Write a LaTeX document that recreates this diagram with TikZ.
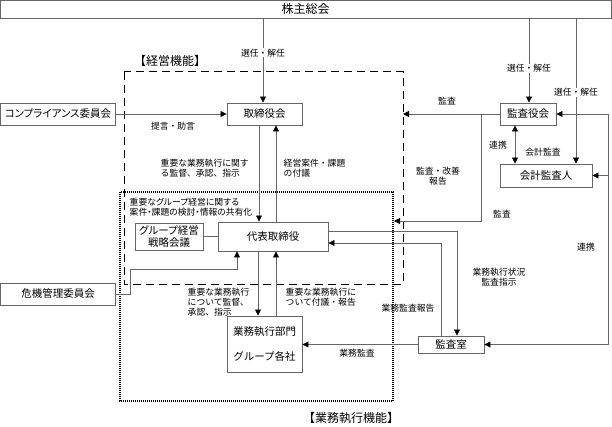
\documentclass[tikz,border=0pt]{standalone}
\usepackage{fontspec}
\setmainfont{Noto Sans CJK JP}
\newfontfamily\pfont{Noto Sans CJK JP}[RawFeature=+palt]
\usetikzlibrary{arrows.meta,calc}
\begin{document}
\begin{tikzpicture}[x=1pt,y=-1pt,
  box/.style={draw=black!60, line width=0.9pt, fill=white, inner sep=0pt, font=\fontsize{10.5}{12}\selectfont, align=center},
  lbl/.style={inner sep=0.5pt, font=\fontsize{8.8}{10.2}\selectfont, align=left},
  clbl/.style={inner sep=0.5pt, font=\fontsize{8.8}{10.2}\selectfont, align=center},
  title/.style={inner sep=0pt, font=\fontsize{12}{14}\selectfont},
  conn/.style={draw=black!60, line width=0.8pt},
  tip/.tip={Triangle[length=6pt,width=6pt,color=black]},
  arr/.style={conn, -tip},
  darr/.style={conn, tip-tip},
  dashframe/.style={draw=black, line width=1pt, dash pattern=on 8pt off 5pt},
  dotframe/.style={draw=black, line width=1.1pt, dash pattern=on 1pt off 1pt}
]
\useasboundingbox (0,0) rectangle (612,427);

% frames
\draw[dashframe] (124,72) rectangle (403,284);
\draw[dotframe] (120,192) rectangle (393,401);
\node[title] (tk) at (170,61) {【経営機能】};
\node[title] (tg) at (351,418) {【業務執行機能】};

% boxes
\node[box, minimum width=611, minimum height=18, font=\fontsize{12}{14}\selectfont] (sh) at (305.5,9) {株主総会};
\node[box, minimum width=115, minimum height=22, font=\pfont\fontsize{10.5}{12}\selectfont] (comp) at (58,114) {コンプライアンス委員会};
\node[box, minimum width=75, minimum height=22] (tori) at (264.5,114) {取締役会};
\node[box, minimum width=56, minimum height=22] (kyk) at (528,114) {監査役会};
\node[box, minimum width=92, minimum height=23] (kai) at (546,175.5) {会計監査人};
\node[box, minimum width=110, minimum height=29] (dai) at (273,236.5) {代表取締役};
\node[box, minimum width=68, minimum height=27, font=\pfont\fontsize{10.5}{12}\selectfont] (grp) at (169,236.5) {グループ経営\\戦略会議};
\node[box, minimum width=75, minimum height=56] (gyo) at (264.5,344) {業務執行部門\\[13pt]グループ各社};
\node[box, minimum width=66, minimum height=17] (shitsu) at (451,344.5) {監査室};
\node[box, minimum width=115, minimum height=22] (kiki) at (58,294) {危機管理委員会};

% 株主総会 connectors
\coordinate (t1) at ($(tori.north)+(-1.5,0)$);
\draw[arr] (t1 |- sh.south) -- (t1) node[clbl, fill=white, pos=0.41] {選任・解任};
\coordinate (t2) at ($(kyk.north)+(1,0)$);
\draw[arr] (t2 |- sh.south) -- (t2) node[clbl, fill=white, pos=0.59] {選任・解任};
\coordinate (t3) at ($(kai.north)+(30,0)$);
\draw[arr] (t3 |- sh.south) -- (t3) node[clbl, fill=white, pos=0.51] {選任・解任};

% compliance
\draw[arr] (comp.east) -- (tori.west);
\node[clbl] (l1) at (173,126) {提言・助言};

% audit board
\coordinate (dashR) at (403,114);
\draw[arr] (kyk.west) -- (dashR);
\node[clbl] (l2) at (447,101) {監査};
\coordinate (j1) at ($(kyk.west)+(-18,0)$);
\coordinate (dotR) at (394,221);
\draw[arr] (j1) |- (dotR);
\node[clbl] (l3) at (502,214) {監査};
\node[clbl] (l4) at (438,176) {監査・改善\\報告};
\draw[darr] ($(kyk.south)+(-13,0)$) -- ($(kai.north)+(-31,0)$);
\node[clbl] (l5) at (498,145) {連携};
\node[clbl] (l6) at (543,152) {会計監査};

% right link line
\coordinate (r1) at ($(kyk.east)+(52,0)$);
\draw[darr] (kyk.east) -- (r1) |- (shitsu.east);
\draw[arr] (r1 |- kai.east) -- (kai.east);
\node[clbl] (l7) at (586,247) {連携};

% board <-> representative director
\coordinate (td) at ($(tori.south)+(-5.5,0)$);
\draw[arr] (td) -- (td |- dai.north);
\coordinate (tu) at ($(tori.south)+(11.5,0)$);
\draw[arr] (tu |- dai.north) -- (tu);
\node[lbl, anchor=west] (l8) at (160,168) {重要な業務執行に関す\\る監督、承認、指示};
\node[lbl, anchor=west] (l9) at (283,168) {経営案件・課題\\の付議};
\node[lbl, anchor=west, font=\pfont\fontsize{8.8}{10.2}\selectfont] (l10) at (129,207) {重要なグループ経営に関する\\案件・課題の検討・情報の共有化};

\draw[conn] (grp.east) -- (dai.west);

% representative director <-> business units
\coordinate (dd) at ($(dai.south)+(-15,0)$);
\draw[arr] (dd) -- (dd |- gyo.north);
\coordinate (du) at ($(dai.south)+(3,0)$);
\draw[arr] (du |- gyo.north) -- (du);
\node[lbl, anchor=west] (l11) at (187,302) {重要な業務執行\\について監督、\\承認、指示};
\node[lbl, anchor=west] (l12) at (285,297) {重要な業務執行に\\ついて付議・報告};

% internal audit
\coordinate (d1) at ($(dai.east)+(0,-5.5)$);
\coordinate (s1) at ($(shitsu.north)+(6,0)$);
\draw[arr] (d1) -| (s1);
\coordinate (s2) at ($(shitsu.north)+(-10,0)$);
\coordinate (d2) at ($(dai.east)+(0,6.5)$);
\draw[arr] (s2) |- (d2);
\node[clbl] (l13) at (499,277) {業務執行状況\\監査指示};
\node[clbl] (l14) at (408,308) {業務監査報告};
\draw[arr] (shitsu.west) -- (shitsu.west -| gyo.east);
\node[clbl] (l15) at (357,353) {業務監査};

% crisis management
\coordinate (k1) at ($(kiki.east)+(14,0)$);
\coordinate (k2) at ($(dai.south)+(-36,0)$);
\coordinate (k3) at ($(k2)+(0,18)$);
\draw[arr] (kiki.east) -| (k1 |- k3) -- (k3) -- (k2);
\end{tikzpicture}
\end{document}
